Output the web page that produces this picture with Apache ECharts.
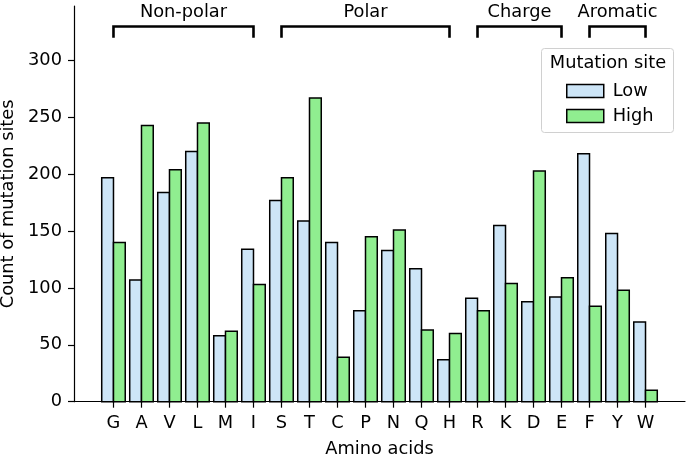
<!DOCTYPE html>
<html>
<head>
<meta charset="utf-8">
<script src="https://cdn.jsdelivr.net/npm/echarts@6/dist/echarts.min.js"></script>
<style>html,body{margin:0;padding:0;background:#fff;}#c{width:688px;height:457px;}</style>
</head>
<body>
<div id="c"></div>
<script>
// ---- data ----
const categories = ['G','A','V','L','M','I','S','T','C','P','N','Q','H','R','K','D','E','F','Y','W'];
const lowValues  = [197,107,184,220,58,134,177,159,140,80,133,117,37,91,155,88,92,218,148,70];
const highValues = [140,243,204,245,62,103,197,267,39,145,151,63,60,80,104,203,109,84,98,10];
const groupNames  = ['Non-polar','Polar','Charge','Aromatic'];
const groupStart  = ['G','S','R','F'];
const groupEnd    = ['I','H','E','W'];
const yTicks = [0,50,100,150,200,250,300];
const seriesNames = ['Low','High'];

// ---- style ----
const FONT = 'DejaVu Sans';
const FS = 17.8;
const BAR_W = 0.42;
const LOW_COLOR = '#cde5f7';
const HIGH_COLOR = '#90ee90';
const BRACKET_Y = 330, LEG_Y = 320, LABEL_Y = 342;

function barRender(side) {
  return function (params, api) {
    const x = api.value(0), v = api.value(1);
    const top = api.coord([x, v]);
    const base = api.coord([x, 0]);
    const w = api.size([BAR_W, 0])[0];
    const left = side === 'low' ? top[0] - w : top[0];
    return {
      type: 'rect',
      shape: { x: left, y: top[1], width: w, height: base[1] - top[1] },
      style: { fill: api.visual('color'), stroke: '#000', lineWidth: 1.5 }
    };
  };
}

const groupData = groupNames.map((n, i) => [categories.indexOf(groupStart[i]), categories.indexOf(groupEnd[i]), i]);

const chart = echarts.init(document.getElementById('c'), null, { renderer: 'canvas' });
chart.setOption({
  animation: false,
  backgroundColor: '#fff',
  textStyle: { fontFamily: FONT },
  grid: { left: 74, right: 3, top: 6, bottom: 55.3, containLabel: false, outerBoundsMode: 'none' },
  xAxis: {
    type: 'value', min: -1.41, max: 20.41,
    name: 'Amino acids', nameLocation: 'middle', nameGap: 39,
    nameTextStyle: { fontFamily: FONT, fontSize: FS, color: '#000' },
    axisLine: { show: true, onZero: false, lineStyle: { color: '#000', width: 1.2 } },
    axisTick: { show: true, length: 6, lineStyle: { color: '#000', width: 1.2 }, customValues: categories.map((c, i) => i) },
    axisLabel: { show: true, margin: 13, fontFamily: FONT, fontSize: FS, color: '#000',
      customValues: categories.map((c, i) => i), formatter: v => categories[Math.round(v)] || '' },
    splitLine: { show: false }
  },
  yAxis: {
    type: 'value', min: 0, max: 348,
    name: 'Count of mutation sites', nameLocation: 'middle', nameGap: 52,
    nameTextStyle: { fontFamily: FONT, fontSize: FS, color: '#000' },
    axisLine: { show: true, onZero: false, lineStyle: { color: '#000', width: 1.2 } },
    axisTick: { show: true, length: 6, lineStyle: { color: '#000', width: 1.2 }, customValues: yTicks },
    axisLabel: { show: true, margin: 12, fontFamily: FONT, fontSize: FS, color: '#000', customValues: yTicks },
    splitLine: { show: false }
  },
  legend: {
    show: true, orient: 'vertical', left: 561, top: 77, itemGap: 7,
    itemWidth: 37, itemHeight: 13,
    textStyle: { fontFamily: FONT, fontSize: FS, color: '#000', padding: [0, 0, 0, 4] },
    data: [
      { name: seriesNames[0], icon: 'rect', itemStyle: { color: LOW_COLOR, borderColor: '#000', borderWidth: 1.5 } },
      { name: seriesNames[1], icon: 'rect', itemStyle: { color: HIGH_COLOR, borderColor: '#000', borderWidth: 1.5 } }
    ]
  },
  graphic: [
    { type: 'rect', z: 0, shape: { x: 541.5, y: 48.5, width: 132, height: 84, r: 3 },
      style: { fill: 'rgba(255,255,255,0.8)', stroke: '#d0d0d0', lineWidth: 1 } },
    { type: 'text', z: 1, style: { x: 608, y: 63, text: 'Mutation site', fontFamily: FONT, fontSize: FS,
      fill: '#000', align: 'center', verticalAlign: 'middle' } }
  ],
  series: [
    { name: seriesNames[0], type: 'custom', renderItem: barRender('low'),
      itemStyle: { color: LOW_COLOR, borderColor: '#000', borderWidth: 1.5 },
      encode: { x: 0, y: 1 }, data: lowValues.map((v, i) => [i, v]) },
    { name: seriesNames[1], type: 'custom', renderItem: barRender('high'),
      itemStyle: { color: HIGH_COLOR, borderColor: '#000', borderWidth: 1.5 },
      encode: { x: 0, y: 1 }, data: highValues.map((v, i) => [i, v]) },
    { name: 'groups', type: 'custom', clip: false, silent: true,
      renderItem: function (params, api) {
        const s = api.value(0), e = api.value(1), gi = api.value(2);
        const p0 = api.coord([s, LEG_Y]), p1 = api.coord([s, BRACKET_Y]);
        const p2 = api.coord([e, BRACKET_Y]), p3 = api.coord([e, LEG_Y]);
        const t = api.coord([(s + e) / 2, LABEL_Y]);
        return { type: 'group', children: [
          { type: 'polyline', shape: { points: [p0, p1, p2, p3] },
            style: { stroke: '#000', lineWidth: 2.6, fill: null, lineJoin: 'miter' } },
          { type: 'text', style: { x: t[0], y: t[1], text: groupNames[gi], fontFamily: FONT, fontSize: FS,
            fill: '#000', align: 'center', verticalAlign: 'middle' } }
        ] };
      },
      encode: { x: [0, 1], y: 2 },
      data: groupData }
  ]
});
</script>
</body>
</html>
